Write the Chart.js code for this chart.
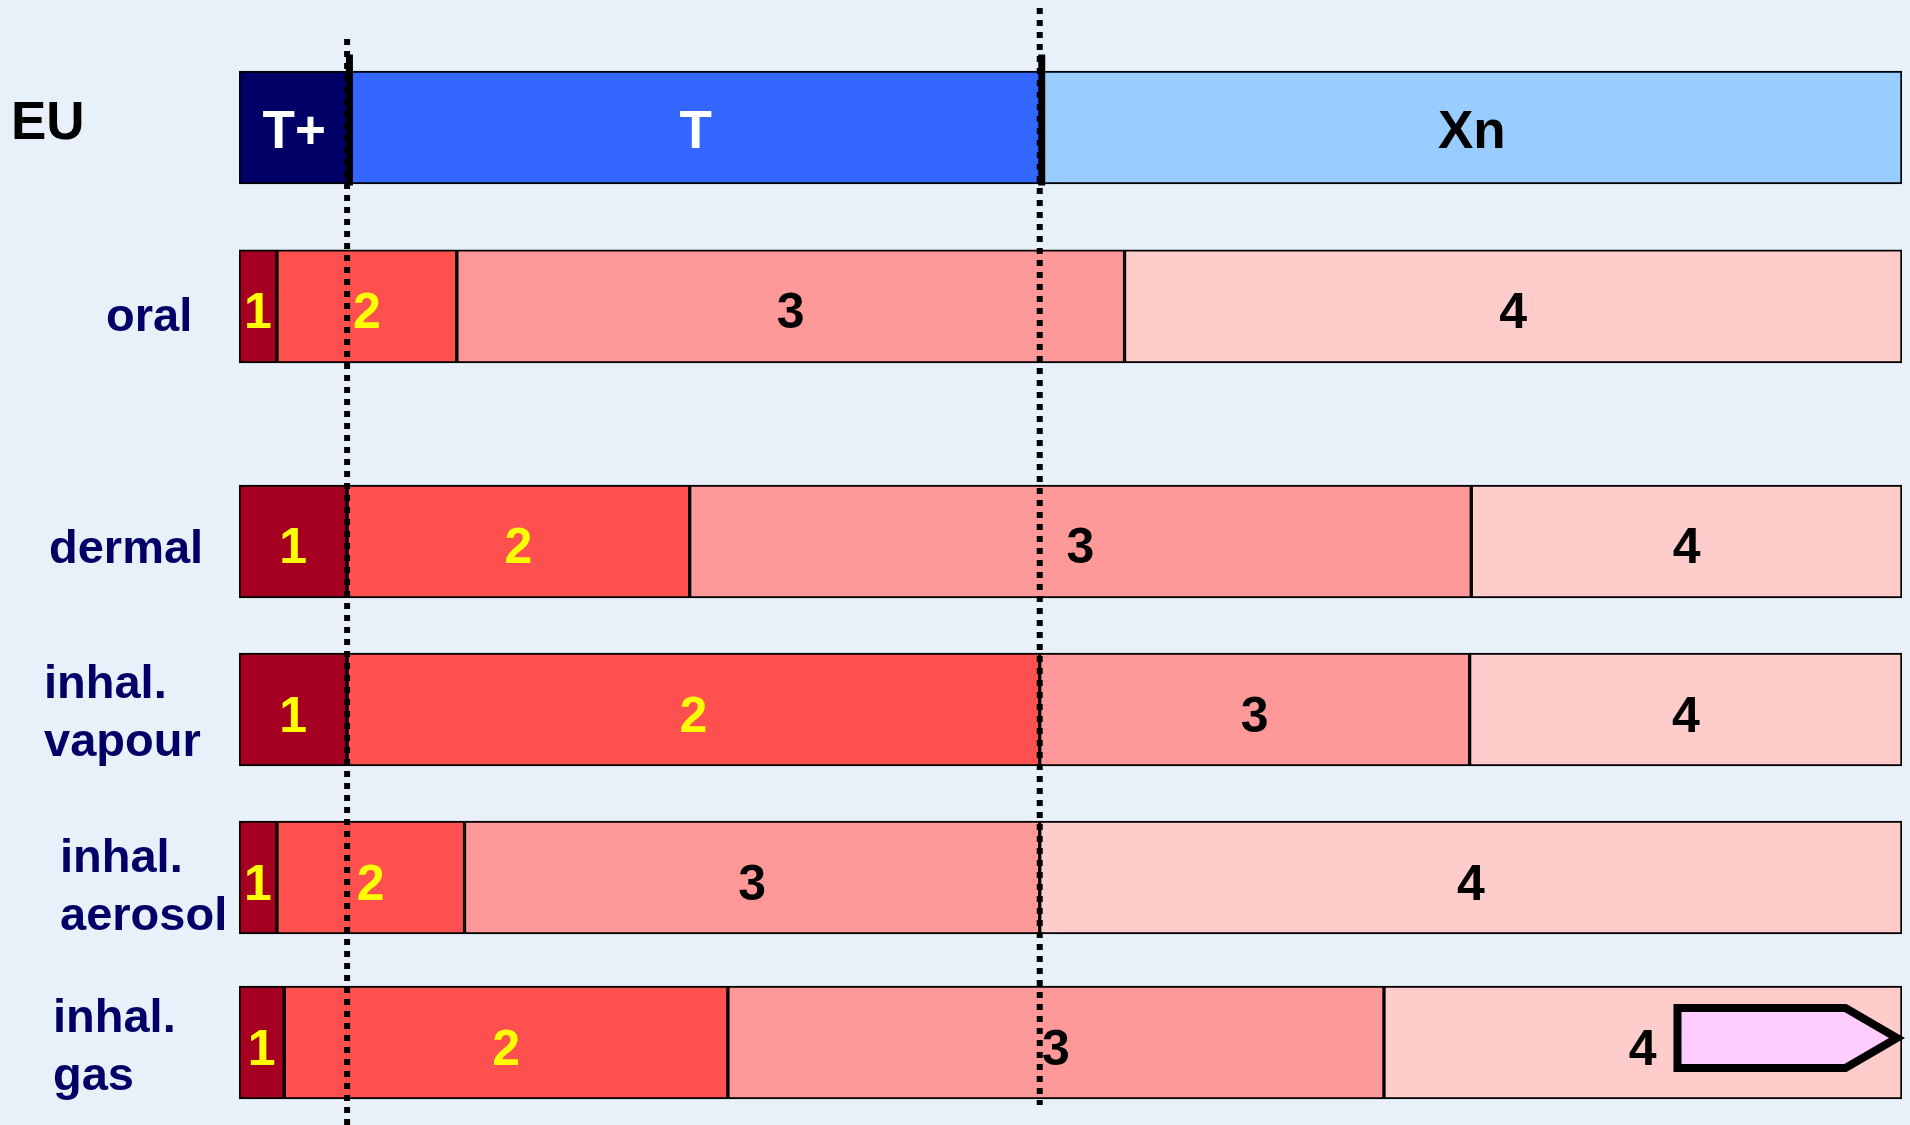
<!DOCTYPE html>
<html>
<head>
<meta charset="utf-8">
<script src="https://cdn.jsdelivr.net/npm/chart.js@4.4.1/dist/chart.umd.min.js"></script>
<style>
  html, body { margin: 0; padding: 0; background: #E8F0F9; }
  canvas { display: block; }
</style>
</head>
<body>
<canvas id="chart" width="1910" height="1125"></canvas>
<script>
// EU classification (top bar), upper limit of each class on a 0-100 schematic axis
const euClasses = ['T+', 'T', 'Xn'];
const euUpper   = [6.64, 48.27, 100];

// GHS routes and the upper limit of each category
const routes    = ['oral', 'dermal', 'inhal. vapour', 'inhal. aerosol', 'inhal. gas'];
const catNames  = ['1', '2', '3', '4'];
const cat1Upper = [2.28, 6.5, 6.5, 2.28, 2.72];
const cat2Upper = [13.1, 27.1, 48.15, 13.56, 29.4];
const cat3Upper = [53.25, 74.1, 74.0, 48.15, 68.85];
const cat4Upper = [100, 100, 100, 100, 100];

// EU cut-offs shown as dotted guides
const cutoffs = [6.5, 48.15];

// ---- layout ----
const rowSlot   = [0, 1.065, 2.464, 3.464, 4.464, 5.446]; // EU row then routes
const euColors  = ['#000066', '#3366FF', '#99CCFF'];
const euText    = ['#FFFFFF', '#FFFFFF', '#000000'];
const catColors = ['#A50021', '#FF5050', '#FF9999', '#FFCCCC'];
const catText   = ['#FFFF00', '#FFFF00', '#000000', '#000000'];
const labelLeft = [11, 106, 49, 44, 60, 53];
const labelDy   = [11, 25, 22, -12, -6, -11];
const FONT = '"Liberation Sans", Arial, sans-serif';

const barBase = {
  borderColor: '#000', borderWidth: 2, borderSkipped: false,
  barThickness: 113, stack: 'rows'
};

const euSets = euClasses.map((name, i) => ({
  ...barBase, label: name,
  data: [{ x: [i ? euUpper[i - 1] : 0, euUpper[i]], y: rowSlot[0] }],
  backgroundColor: euColors[i], _text: [name], _textColor: euText[i], _font: 53, _dy: 20
}));

const catUpper = [cat1Upper, cat2Upper, cat3Upper, cat4Upper];
const catSets = catUpper.map((up, k) => ({
  ...barBase, label: 'Cat ' + catNames[k],
  data: routes.map((r, i) => ({ x: [k ? catUpper[k - 1][i] : 0, up[i]], y: rowSlot[i + 1] })),
  backgroundColor: catColors[k], _text: routes.map(() => catNames[k]), _textColor: catText[k], _font: 50, _dy: 22
}));

// arrow on the gas row (open-ended cat 4)
const arrowFrom = 86.5, arrowCorner = 96.6, arrowTip = 99.7, gasLabelAt = 84.4;

const overlay = {
  id: 'overlay',
  afterDatasetsDraw(chart) {
    const { ctx, scales: { x, y } } = chart;
    ctx.save();

    // arrow
    const gy = y.getPixelForValue(rowSlot[5]) - 4.5;
    const l = x.getPixelForValue(arrowFrom), c = x.getPixelForValue(arrowCorner), t = x.getPixelForValue(arrowTip);
    ctx.beginPath();
    ctx.moveTo(l, gy - 30); ctx.lineTo(c, gy - 30); ctx.lineTo(t, gy);
    ctx.lineTo(c, gy + 30); ctx.lineTo(l, gy + 30); ctx.closePath();
    ctx.fillStyle = '#FFCCFF'; ctx.fill();
    ctx.lineWidth = 8; ctx.lineJoin = 'miter'; ctx.strokeStyle = '#000'; ctx.stroke();

    // bar labels
    ctx.textAlign = 'center'; ctx.textBaseline = 'alphabetic';
    chart.data.datasets.forEach((ds, d) => {
      const meta = chart.getDatasetMeta(d);
      ctx.font = `bold ${ds._font}px ${FONT}`;
      ctx.fillStyle = ds._textColor;
      meta.data.forEach((bar, i) => {
        let cx = (bar.x + bar.base) / 2;
        if (ds.label === 'Cat 4' && i === 4) cx = x.getPixelForValue(gasLabelAt);
        ctx.fillText(ds._text[i], cx, bar.y + ds._dy);
      });
    });

    // EU boundaries (solid) over the top bar
    const euTop = y.getPixelForValue(rowSlot[0]) - 73, euBot = y.getPixelForValue(rowSlot[0]) + 58;
    ctx.strokeStyle = '#000'; ctx.lineWidth = 7;
    euUpper.slice(0, 2).forEach(v => {
      const px = x.getPixelForValue(v);
      ctx.beginPath(); ctx.moveTo(px, euTop); ctx.lineTo(px, euBot); ctx.stroke();
    });

    // dotted guides
    ctx.lineWidth = 6; ctx.setLineDash([6, 6]);
    const guideTop = [39, 8], guideBot = [1125, 1105];
    cutoffs.forEach((v, i) => {
      const px = x.getPixelForValue(v);
      ctx.beginPath(); ctx.moveTo(px, guideTop[i]); ctx.lineTo(px, guideBot[i]); ctx.stroke();
    });
    ctx.setLineDash([]);

    // row labels
    ctx.textAlign = 'left';
    ['EU', ...routes].forEach((name, i) => {
      const cy = y.getPixelForValue(rowSlot[i]);
      if (i === 0) {
        ctx.font = `bold 53px ${FONT}`; ctx.fillStyle = '#000';
        ctx.fillText(name, labelLeft[i], cy + labelDy[i]);
        return;
      }
      const lines = name.split(' ');
      ctx.font = `bold 47px ${FONT}`; ctx.fillStyle = '#000066';
      const first = cy + labelDy[i];
      lines.forEach((ln, j) => ctx.fillText(ln, labelLeft[i], first + j * 58));
    });
    ctx.restore();
  }
};

new Chart(document.getElementById('chart'), {
  type: 'bar',
  data: { datasets: [...euSets, ...catSets] },
  options: {
    indexAxis: 'y',
    responsive: false,
    animation: false,
    layout: { padding: { left: 239, right: 8, top: 0, bottom: 0 } },
    scales: {
      x: { type: 'linear', min: 0, max: 100, stacked: false, display: false },
      y: { type: 'linear', min: -0.759, max: 5.937, reverse: true, offset: false, display: false }
    },
    plugins: { legend: { display: false }, tooltip: { enabled: false } }
  },
  plugins: [overlay]
});
</script>
</body>
</html>
